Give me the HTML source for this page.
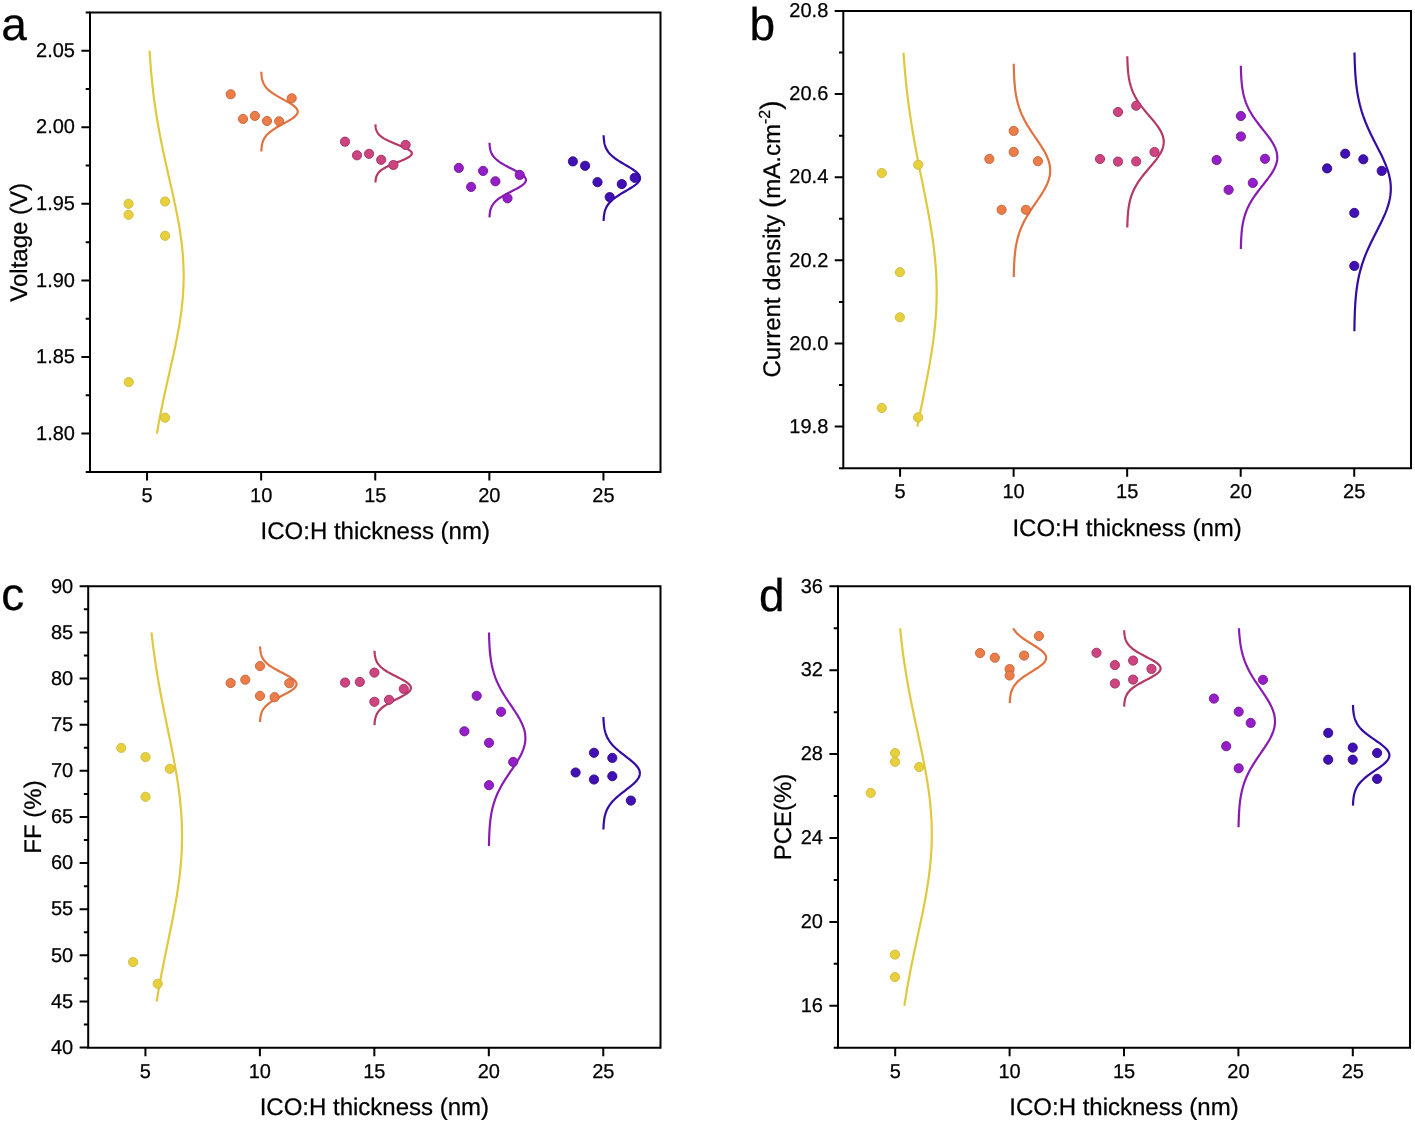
<!DOCTYPE html>
<html><head><meta charset="utf-8"><style>
html,body{margin:0;padding:0;background:#fff;}
svg{display:block;will-change:transform;}
text{font-family:"Liberation Sans", sans-serif;fill:#000;stroke:#000;stroke-width:0.25px;text-rendering:geometricPrecision;}
</style></head><body>
<svg width="1415" height="1123" viewBox="0 0 1415 1123">
<rect width="1415" height="1123" fill="#fff"/>
<path d="M149.58,50.7L149.88,55.49L150.21,60.27L150.57,65.06L150.96,69.85L151.38,74.63L151.84,79.42L152.33,84.21L152.86,88.99L153.42,93.78L154.03,98.57L154.67,103.35L155.35,108.14L156.08,112.93L156.84,117.71L157.64,122.5L158.48,127.28L159.35,132.07L160.26,136.86L161.2,141.64L162.18,146.43L163.18,151.22L164.2,156L165.25,160.79L166.32,165.58L167.39,170.36L168.48,175.15L169.57,179.94L170.66,184.72L171.74,189.51L172.81,194.3L173.86,199.08L174.89,203.87L175.88,208.66L176.84,213.44L177.76,218.23L178.63,223.02L179.44,227.8L180.2,232.59L180.89,237.38L181.51,242.16L182.06,246.95L182.54,251.74L182.93,256.52L183.24,261.31L183.46,266.1L183.6,270.88L183.65,275.67L183.61,280.45L183.48,285.24L183.27,290.03L182.97,294.81L182.59,299.6L182.12,304.39L181.58,309.17L180.97,313.96L180.28,318.75L179.54,323.53L178.73,328.32L177.86,333.11L176.95,337.89L176,342.68L175.01,347.47L173.98,352.25L172.94,357.04L171.87,361.83L170.79,366.61L169.7,371.4L168.61,376.19L167.52,380.97L166.44,385.76L165.38,390.55L164.33,395.33L163.3,400.12L162.29,404.91L161.32,409.69L160.37,414.48L159.46,419.27L158.58,424.05L157.73,428.84L156.93,433.62" fill="none" stroke="#E0C93E" stroke-width="2.2"/>
<path d="M261.31,71.73L261.36,72.73L261.42,73.73L261.5,74.72L261.59,75.72L261.72,76.72L261.87,77.71L262.05,78.71L262.27,79.71L262.54,80.71L262.86,81.7L263.24,82.7L263.69,83.7L264.21,84.69L264.82,85.69L265.51,86.69L266.3,87.69L267.2,88.68L268.2,89.68L269.31,90.68L270.53,91.67L271.86,92.67L273.3,93.67L274.84,94.67L276.47,95.66L278.17,96.66L279.93,97.66L281.74,98.65L283.57,99.65L285.4,100.65L287.19,101.65L288.93,102.64L290.59,103.64L292.13,104.64L293.53,105.63L294.76,106.63L295.81,107.63L296.65,108.63L297.26,109.62L297.63,110.62L297.75,111.62L297.63,112.61L297.26,113.61L296.65,114.61L295.81,115.61L294.76,116.6L293.53,117.6L292.13,118.6L290.59,119.59L288.93,120.59L287.19,121.59L285.4,122.59L283.57,123.58L281.74,124.58L279.93,125.58L278.17,126.57L276.47,127.57L274.84,128.57L273.3,129.57L271.86,130.56L270.53,131.56L269.31,132.56L268.2,133.55L267.2,134.55L266.3,135.55L265.51,136.54L264.82,137.54L264.21,138.54L263.69,139.54L263.24,140.53L262.86,141.53L262.54,142.53L262.27,143.52L262.05,144.52L261.87,145.52L261.72,146.52L261.59,147.51L261.5,148.51L261.42,149.51L261.36,150.5L261.31,151.5" fill="none" stroke="#E0723F" stroke-width="2.2"/>
<path d="M375.41,124.33L375.46,125.06L375.52,125.78L375.6,126.51L375.69,127.24L375.82,127.97L375.97,128.69L376.15,129.42L376.37,130.15L376.64,130.87L376.96,131.6L377.34,132.33L377.79,133.06L378.31,133.78L378.92,134.51L379.61,135.24L380.4,135.97L381.3,136.69L382.3,137.42L383.41,138.15L384.63,138.87L385.96,139.6L387.4,140.33L388.94,141.06L390.57,141.78L392.27,142.51L394.03,143.24L395.84,143.96L397.67,144.69L399.5,145.42L401.29,146.15L403.03,146.87L404.69,147.6L406.23,148.33L407.63,149.05L408.86,149.78L409.91,150.51L410.75,151.24L411.36,151.96L411.73,152.69L411.85,153.42L411.73,154.14L411.36,154.87L410.75,155.6L409.91,156.33L408.86,157.05L407.63,157.78L406.23,158.51L404.69,159.23L403.03,159.96L401.29,160.69L399.5,161.42L397.67,162.14L395.84,162.87L394.03,163.6L392.27,164.32L390.57,165.05L388.94,165.78L387.4,166.51L385.96,167.23L384.63,167.96L383.41,168.69L382.3,169.41L381.3,170.14L380.4,170.87L379.61,171.6L378.92,172.32L378.31,173.05L377.79,173.78L377.34,174.5L376.96,175.23L376.64,175.96L376.37,176.69L376.15,177.41L375.97,178.14L375.82,178.87L375.69,179.59L375.6,180.32L375.52,181.05L375.46,181.78L375.41,182.5" fill="none" stroke="#B43966" stroke-width="2.2"/>
<path d="M489.51,142.72L489.56,143.65L489.62,144.58L489.7,145.51L489.79,146.45L489.92,147.38L490.07,148.31L490.25,149.25L490.47,150.18L490.74,151.11L491.06,152.04L491.44,152.98L491.89,153.91L492.41,154.84L493.02,155.78L493.71,156.71L494.5,157.64L495.4,158.58L496.4,159.51L497.51,160.44L498.73,161.37L500.06,162.31L501.5,163.24L503.04,164.17L504.67,165.11L506.37,166.04L508.13,166.97L509.94,167.9L511.77,168.84L513.6,169.77L515.39,170.7L517.13,171.64L518.79,172.57L520.33,173.5L521.73,174.44L522.96,175.37L524.01,176.3L524.85,177.23L525.46,178.17L525.83,179.1L525.95,180.03L525.83,180.97L525.46,181.9L524.85,182.83L524.01,183.77L522.96,184.7L521.73,185.63L520.33,186.56L518.79,187.5L517.13,188.43L515.39,189.36L513.6,190.3L511.77,191.23L509.94,192.16L508.13,193.09L506.37,194.03L504.67,194.96L503.04,195.89L501.5,196.83L500.06,197.76L498.73,198.69L497.51,199.63L496.4,200.56L495.4,201.49L494.5,202.42L493.71,203.36L493.02,204.29L492.41,205.22L491.89,206.16L491.44,207.09L491.06,208.02L490.74,208.95L490.47,209.89L490.25,210.82L490.07,211.75L489.92,212.69L489.79,213.62L489.7,214.55L489.62,215.49L489.56,216.42L489.51,217.35" fill="none" stroke="#881BB4" stroke-width="2.2"/>
<path d="M603.61,135.19L603.66,136.26L603.72,137.33L603.8,138.41L603.89,139.48L604.02,140.55L604.17,141.62L604.35,142.69L604.57,143.77L604.84,144.84L605.16,145.91L605.54,146.98L605.99,148.05L606.51,149.13L607.12,150.2L607.81,151.27L608.6,152.34L609.5,153.41L610.5,154.48L611.61,155.56L612.83,156.63L614.16,157.7L615.6,158.77L617.14,159.84L618.77,160.92L620.47,161.99L622.23,163.06L624.04,164.13L625.87,165.2L627.7,166.28L629.49,167.35L631.23,168.42L632.89,169.49L634.43,170.56L635.83,171.64L637.06,172.71L638.11,173.78L638.95,174.85L639.56,175.92L639.93,176.99L640.05,178.07L639.93,179.14L639.56,180.21L638.95,181.28L638.11,182.35L637.06,183.43L635.83,184.5L634.43,185.57L632.89,186.64L631.23,187.71L629.49,188.79L627.7,189.86L625.87,190.93L624.04,192L622.23,193.07L620.47,194.15L618.77,195.22L617.14,196.29L615.6,197.36L614.16,198.43L612.83,199.5L611.61,200.58L610.5,201.65L609.5,202.72L608.6,203.79L607.81,204.86L607.12,205.94L606.51,207.01L605.99,208.08L605.54,209.15L605.16,210.22L604.84,211.3L604.57,212.37L604.35,213.44L604.17,214.51L604.02,215.58L603.89,216.66L603.8,217.73L603.72,218.8L603.66,219.87L603.61,220.94" fill="none" stroke="#350BA4" stroke-width="2.2"/>
<circle cx="128.55" cy="203.8" r="4.6" fill="#E8D03C" stroke="#CDB93E" stroke-width="0.9"/>
<circle cx="128.55" cy="214.8" r="4.6" fill="#E8D03C" stroke="#CDB93E" stroke-width="0.9"/>
<circle cx="165.1" cy="201.5" r="4.6" fill="#E8D03C" stroke="#CDB93E" stroke-width="0.9"/>
<circle cx="165.1" cy="235.8" r="4.6" fill="#E8D03C" stroke="#CDB93E" stroke-width="0.9"/>
<circle cx="128.7" cy="382.1" r="4.6" fill="#E8D03C" stroke="#CDB93E" stroke-width="0.9"/>
<circle cx="165" cy="417.7" r="4.6" fill="#E8D03C" stroke="#CDB93E" stroke-width="0.9"/>
<circle cx="230.7" cy="94.3" r="4.6" fill="#EC7C48" stroke="#C2643A" stroke-width="0.9"/>
<circle cx="243" cy="118.9" r="4.6" fill="#EC7C48" stroke="#C2643A" stroke-width="0.9"/>
<circle cx="254.9" cy="115.9" r="4.6" fill="#EC7C48" stroke="#C2643A" stroke-width="0.9"/>
<circle cx="267" cy="121" r="4.6" fill="#EC7C48" stroke="#C2643A" stroke-width="0.9"/>
<circle cx="279.2" cy="121.3" r="4.6" fill="#EC7C48" stroke="#C2643A" stroke-width="0.9"/>
<circle cx="291.7" cy="98.3" r="4.6" fill="#EC7C48" stroke="#C2643A" stroke-width="0.9"/>
<circle cx="345" cy="141.7" r="4.6" fill="#CD4480" stroke="#9E305E" stroke-width="0.9"/>
<circle cx="357" cy="155.3" r="4.6" fill="#CD4480" stroke="#9E305E" stroke-width="0.9"/>
<circle cx="369.1" cy="153.8" r="4.6" fill="#CD4480" stroke="#9E305E" stroke-width="0.9"/>
<circle cx="381.2" cy="159.8" r="4.6" fill="#CD4480" stroke="#9E305E" stroke-width="0.9"/>
<circle cx="393.4" cy="165" r="4.6" fill="#CD4480" stroke="#9E305E" stroke-width="0.9"/>
<circle cx="405.6" cy="144.9" r="4.6" fill="#CD4480" stroke="#9E305E" stroke-width="0.9"/>
<circle cx="458.8" cy="167.9" r="4.6" fill="#961EC8" stroke="#6E1694" stroke-width="0.9"/>
<circle cx="471.1" cy="186.9" r="4.6" fill="#961EC8" stroke="#6E1694" stroke-width="0.9"/>
<circle cx="483.1" cy="170.9" r="4.6" fill="#961EC8" stroke="#6E1694" stroke-width="0.9"/>
<circle cx="495.4" cy="181.3" r="4.6" fill="#961EC8" stroke="#6E1694" stroke-width="0.9"/>
<circle cx="507.5" cy="198.3" r="4.6" fill="#961EC8" stroke="#6E1694" stroke-width="0.9"/>
<circle cx="519.7" cy="174.9" r="4.6" fill="#961EC8" stroke="#6E1694" stroke-width="0.9"/>
<circle cx="572.9" cy="161.4" r="4.6" fill="#410FB4" stroke="#2C0A8C" stroke-width="0.9"/>
<circle cx="585.1" cy="165.8" r="4.6" fill="#410FB4" stroke="#2C0A8C" stroke-width="0.9"/>
<circle cx="597.5" cy="182.2" r="4.6" fill="#410FB4" stroke="#2C0A8C" stroke-width="0.9"/>
<circle cx="609.7" cy="197.1" r="4.6" fill="#410FB4" stroke="#2C0A8C" stroke-width="0.9"/>
<circle cx="621.8" cy="184.1" r="4.6" fill="#410FB4" stroke="#2C0A8C" stroke-width="0.9"/>
<circle cx="634.7" cy="177.8" r="4.6" fill="#410FB4" stroke="#2C0A8C" stroke-width="0.9"/>
<path d="M90,12.6H660.5V472H90Z" fill="none" stroke="#000" stroke-width="2"/>
<text x="75" y="439.82" text-anchor="end" font-size="20">1.80</text>
<text x="75" y="363.24" text-anchor="end" font-size="20">1.85</text>
<text x="75" y="286.65" text-anchor="end" font-size="20">1.90</text>
<text x="75" y="210.07" text-anchor="end" font-size="20">1.95</text>
<text x="75" y="133.48" text-anchor="end" font-size="20">2.00</text>
<text x="75" y="56.9" text-anchor="end" font-size="20">2.05</text>
<text x="147.05" y="502.2" text-anchor="middle" font-size="20">5</text>
<text x="261.15" y="502.2" text-anchor="middle" font-size="20">10</text>
<text x="375.25" y="502.2" text-anchor="middle" font-size="20">15</text>
<text x="489.35" y="502.2" text-anchor="middle" font-size="20">20</text>
<text x="603.45" y="502.2" text-anchor="middle" font-size="20">25</text>
<path d="M81.4,433.62H90M81.4,357.04H90M81.4,280.45H90M81.4,203.87H90M81.4,127.28H90M81.4,50.7H90M85.7,471.92H90M85.7,395.33H90M85.7,318.75H90M85.7,242.16H90M85.7,165.58H90M85.7,88.99H90M85.7,12.41H90M147.05,472V480.6M261.15,472V480.6M375.25,472V480.6M489.35,472V480.6M603.45,472V480.6" stroke="#000" stroke-width="2" fill="none"/>
<text x="375.25" y="539.3" text-anchor="middle" font-size="24">ICO:H thickness (nm)</text>
<text transform="translate(26.9,242.3) rotate(-90)" text-anchor="middle" font-size="24">Voltage (V)</text>
<text x="1.2" y="40" font-size="46">a</text>
<path d="M903.49,52.56L903.82,57.24L904.17,61.91L904.55,66.59L904.96,71.26L905.39,75.94L905.84,80.61L906.33,85.29L906.84,89.96L907.39,94.64L907.96,99.32L908.56,103.99L909.19,108.67L909.85,113.34L910.54,118.02L911.26,122.69L912,127.37L912.78,132.04L913.58,136.72L914.4,141.39L915.24,146.07L916.11,150.75L916.99,155.42L917.89,160.1L918.81,164.77L919.73,169.45L920.67,174.12L921.61,178.8L922.55,183.47L923.49,188.15L924.43,192.83L925.36,197.5L926.28,202.18L927.18,206.85L928.06,211.53L928.92,216.2L929.75,220.88L930.55,225.55L931.32,230.23L932.04,234.9L932.73,239.58L933.37,244.26L933.96,248.93L934.5,253.61L934.98,258.28L935.41,262.96L935.78,267.63L936.08,272.31L936.33,276.98L936.51,281.66L936.62,286.34L936.67,291.01L936.65,295.69L936.57,300.36L936.42,305.04L936.21,309.71L935.93,314.39L935.59,319.06L935.19,323.74L934.73,328.41L934.22,333.09L933.65,337.77L933.04,342.44L932.37,347.12L931.67,351.79L930.92,356.47L930.13,361.14L929.32,365.82L928.47,370.49L927.6,375.17L926.71,379.85L925.8,384.52L924.87,389.2L923.94,393.87L923,398.55L922.06,403.22L921.11,407.9L920.18,412.57L919.24,417.25L918.32,421.92L917.42,426.6" fill="none" stroke="#E0C93E" stroke-width="2.2"/>
<path d="M1013.77,63.75L1013.82,66.42L1013.88,69.08L1013.96,71.75L1014.05,74.42L1014.18,77.08L1014.33,79.75L1014.51,82.42L1014.73,85.08L1015,87.75L1015.32,90.42L1015.7,93.08L1016.15,95.75L1016.67,98.42L1017.28,101.08L1017.97,103.75L1018.76,106.42L1019.66,109.08L1020.66,111.75L1021.77,114.42L1022.99,117.08L1024.32,119.75L1025.76,122.42L1027.3,125.08L1028.93,127.75L1030.63,130.42L1032.39,133.08L1034.2,135.75L1036.03,138.42L1037.86,141.08L1039.65,143.75L1041.39,146.42L1043.05,149.08L1044.59,151.75L1045.99,154.42L1047.22,157.08L1048.27,159.75L1049.11,162.42L1049.72,165.08L1050.09,167.75L1050.21,170.42L1050.09,173.08L1049.72,175.75L1049.11,178.42L1048.27,181.08L1047.22,183.75L1045.99,186.42L1044.59,189.08L1043.05,191.75L1041.39,194.42L1039.65,197.08L1037.86,199.75L1036.03,202.42L1034.2,205.08L1032.39,207.75L1030.63,210.42L1028.93,213.08L1027.3,215.75L1025.76,218.42L1024.32,221.08L1022.99,223.75L1021.77,226.42L1020.66,229.08L1019.66,231.75L1018.76,234.42L1017.97,237.08L1017.28,239.75L1016.67,242.42L1016.15,245.08L1015.7,247.75L1015.32,250.42L1015,253.08L1014.73,255.75L1014.51,258.42L1014.33,261.08L1014.18,263.75L1014.05,266.42L1013.96,269.08L1013.88,271.75L1013.82,274.42L1013.77,277.08" fill="none" stroke="#E0723F" stroke-width="2.2"/>
<path d="M1127.31,56.31L1127.36,58.45L1127.42,60.59L1127.5,62.74L1127.59,64.88L1127.72,67.02L1127.87,69.16L1128.05,71.3L1128.27,73.44L1128.54,75.58L1128.86,77.72L1129.24,79.86L1129.69,82L1130.21,84.14L1130.82,86.29L1131.51,88.43L1132.3,90.57L1133.2,92.71L1134.2,94.85L1135.31,96.99L1136.53,99.13L1137.86,101.27L1139.3,103.41L1140.84,105.55L1142.47,107.7L1144.17,109.84L1145.93,111.98L1147.74,114.12L1149.57,116.26L1151.4,118.4L1153.19,120.54L1154.93,122.68L1156.59,124.82L1158.13,126.96L1159.53,129.1L1160.76,131.25L1161.81,133.39L1162.65,135.53L1163.26,137.67L1163.63,139.81L1163.75,141.95L1163.63,144.09L1163.26,146.23L1162.65,148.37L1161.81,150.51L1160.76,152.65L1159.53,154.8L1158.13,156.94L1156.59,159.08L1154.93,161.22L1153.19,163.36L1151.4,165.5L1149.57,167.64L1147.74,169.78L1145.93,171.92L1144.17,174.06L1142.47,176.2L1140.84,178.35L1139.3,180.49L1137.86,182.63L1136.53,184.77L1135.31,186.91L1134.2,189.05L1133.2,191.19L1132.3,193.33L1131.51,195.47L1130.82,197.61L1130.21,199.76L1129.69,201.9L1129.24,204.04L1128.86,206.18L1128.54,208.32L1128.27,210.46L1128.05,212.6L1127.87,214.74L1127.72,216.88L1127.59,219.02L1127.5,221.16L1127.42,223.31L1127.36,225.45L1127.31,227.59" fill="none" stroke="#B43966" stroke-width="2.2"/>
<path d="M1240.85,65.65L1240.9,67.94L1240.96,70.23L1241.04,72.53L1241.13,74.82L1241.26,77.11L1241.41,79.4L1241.59,81.69L1241.81,83.99L1242.08,86.28L1242.4,88.57L1242.78,90.86L1243.23,93.15L1243.75,95.45L1244.36,97.74L1245.05,100.03L1245.84,102.32L1246.74,104.62L1247.74,106.91L1248.85,109.2L1250.07,111.49L1251.4,113.78L1252.84,116.08L1254.38,118.37L1256.01,120.66L1257.71,122.95L1259.47,125.24L1261.28,127.54L1263.11,129.83L1264.94,132.12L1266.73,134.41L1268.47,136.7L1270.13,139L1271.67,141.29L1273.07,143.58L1274.3,145.87L1275.35,148.16L1276.19,150.46L1276.8,152.75L1277.17,155.04L1277.29,157.33L1277.17,159.63L1276.8,161.92L1276.19,164.21L1275.35,166.5L1274.3,168.79L1273.07,171.09L1271.67,173.38L1270.13,175.67L1268.47,177.96L1266.73,180.25L1264.94,182.55L1263.11,184.84L1261.28,187.13L1259.47,189.42L1257.71,191.71L1256.01,194.01L1254.38,196.3L1252.84,198.59L1251.4,200.88L1250.07,203.18L1248.85,205.47L1247.74,207.76L1246.74,210.05L1245.84,212.34L1245.05,214.64L1244.36,216.93L1243.75,219.22L1243.23,221.51L1242.78,223.8L1242.4,226.1L1242.08,228.39L1241.81,230.68L1241.59,232.97L1241.41,235.26L1241.26,237.56L1241.13,239.85L1241.04,242.14L1240.96,244.43L1240.9,246.73L1240.85,249.02" fill="none" stroke="#881BB4" stroke-width="2.2"/>
<path d="M1354.49,52.56L1354.57,56.04L1354.66,59.53L1354.78,63.01L1354.92,66.5L1355.09,69.98L1355.3,73.47L1355.55,76.95L1355.85,80.44L1356.2,83.92L1356.62,87.41L1357.1,90.89L1357.66,94.37L1358.31,97.86L1359.04,101.34L1359.87,104.83L1360.8,108.31L1361.83,111.8L1362.97,115.28L1364.22,118.77L1365.56,122.25L1367.01,125.74L1368.54,129.22L1370.16,132.7L1371.85,136.19L1373.59,139.67L1375.36,143.16L1377.15,146.64L1378.92,150.13L1380.67,153.61L1382.35,157.1L1383.95,160.58L1385.43,164.07L1386.78,167.55L1387.96,171.03L1388.96,174.52L1389.77,178L1390.35,181.49L1390.71,184.97L1390.83,188.46L1390.72,191.94L1390.37,195.43L1389.79,198.91L1389,202.4L1388,205.88L1386.82,209.36L1385.48,212.85L1384,216.33L1382.41,219.82L1380.73,223.3L1378.98,226.79L1377.21,230.27L1375.42,233.76L1373.65,237.24L1371.91,240.73L1370.22,244.21L1368.6,247.69L1367.06,251.18L1365.61,254.66L1364.26,258.15L1363.01,261.63L1361.87,265.12L1360.83,268.6L1359.9,272.09L1359.07,275.57L1358.33,279.06L1357.68,282.54L1357.12,286.02L1356.63,289.51L1356.22,292.99L1355.86,296.48L1355.56,299.96L1355.31,303.45L1355.1,306.93L1354.92,310.42L1354.78,313.9L1354.66,317.39L1354.57,320.87L1354.5,324.35L1354.44,327.84L1354.39,331.32" fill="none" stroke="#350BA4" stroke-width="2.2"/>
<circle cx="881.8" cy="173" r="4.6" fill="#E8D03C" stroke="#CDB93E" stroke-width="0.9"/>
<circle cx="918.2" cy="164.8" r="4.6" fill="#E8D03C" stroke="#CDB93E" stroke-width="0.9"/>
<circle cx="899.9" cy="272.2" r="4.6" fill="#E8D03C" stroke="#CDB93E" stroke-width="0.9"/>
<circle cx="899.9" cy="317.3" r="4.6" fill="#E8D03C" stroke="#CDB93E" stroke-width="0.9"/>
<circle cx="881.8" cy="408" r="4.6" fill="#E8D03C" stroke="#CDB93E" stroke-width="0.9"/>
<circle cx="918.1" cy="417.4" r="4.6" fill="#E8D03C" stroke="#CDB93E" stroke-width="0.9"/>
<circle cx="1013.7" cy="130.9" r="4.6" fill="#EC7C48" stroke="#C2643A" stroke-width="0.9"/>
<circle cx="1013.7" cy="151.9" r="4.6" fill="#EC7C48" stroke="#C2643A" stroke-width="0.9"/>
<circle cx="989.35" cy="158.9" r="4.6" fill="#EC7C48" stroke="#C2643A" stroke-width="0.9"/>
<circle cx="1037.9" cy="161.2" r="4.6" fill="#EC7C48" stroke="#C2643A" stroke-width="0.9"/>
<circle cx="1001.6" cy="209.8" r="4.6" fill="#EC7C48" stroke="#C2643A" stroke-width="0.9"/>
<circle cx="1025.9" cy="209.8" r="4.6" fill="#EC7C48" stroke="#C2643A" stroke-width="0.9"/>
<circle cx="1118" cy="112" r="4.6" fill="#CD4480" stroke="#9E305E" stroke-width="0.9"/>
<circle cx="1136.2" cy="105.7" r="4.6" fill="#CD4480" stroke="#9E305E" stroke-width="0.9"/>
<circle cx="1100" cy="159" r="4.6" fill="#CD4480" stroke="#9E305E" stroke-width="0.9"/>
<circle cx="1118" cy="161.6" r="4.6" fill="#CD4480" stroke="#9E305E" stroke-width="0.9"/>
<circle cx="1136.2" cy="161.4" r="4.6" fill="#CD4480" stroke="#9E305E" stroke-width="0.9"/>
<circle cx="1154.5" cy="152" r="4.6" fill="#CD4480" stroke="#9E305E" stroke-width="0.9"/>
<circle cx="1240.9" cy="116" r="4.6" fill="#961EC8" stroke="#6E1694" stroke-width="0.9"/>
<circle cx="1240.9" cy="136.5" r="4.6" fill="#961EC8" stroke="#6E1694" stroke-width="0.9"/>
<circle cx="1216.6" cy="160" r="4.6" fill="#961EC8" stroke="#6E1694" stroke-width="0.9"/>
<circle cx="1265" cy="158.8" r="4.6" fill="#961EC8" stroke="#6E1694" stroke-width="0.9"/>
<circle cx="1228.6" cy="189.8" r="4.6" fill="#961EC8" stroke="#6E1694" stroke-width="0.9"/>
<circle cx="1252.8" cy="182.9" r="4.6" fill="#961EC8" stroke="#6E1694" stroke-width="0.9"/>
<circle cx="1327.1" cy="168.4" r="4.6" fill="#410FB4" stroke="#2C0A8C" stroke-width="0.9"/>
<circle cx="1345.2" cy="153.7" r="4.6" fill="#410FB4" stroke="#2C0A8C" stroke-width="0.9"/>
<circle cx="1363.3" cy="159.3" r="4.6" fill="#410FB4" stroke="#2C0A8C" stroke-width="0.9"/>
<circle cx="1381.7" cy="170.9" r="4.6" fill="#410FB4" stroke="#2C0A8C" stroke-width="0.9"/>
<circle cx="1354.3" cy="212.9" r="4.6" fill="#410FB4" stroke="#2C0A8C" stroke-width="0.9"/>
<circle cx="1354.3" cy="265.9" r="4.6" fill="#410FB4" stroke="#2C0A8C" stroke-width="0.9"/>
<path d="M843.3,11H1411V468.2H843.3Z" fill="none" stroke="#000" stroke-width="2"/>
<text x="828.3" y="432.8" text-anchor="end" font-size="20">19.8</text>
<text x="828.3" y="349.68" text-anchor="end" font-size="20">20.0</text>
<text x="828.3" y="266.56" text-anchor="end" font-size="20">20.2</text>
<text x="828.3" y="183.44" text-anchor="end" font-size="20">20.4</text>
<text x="828.3" y="100.32" text-anchor="end" font-size="20">20.6</text>
<text x="828.3" y="17.2" text-anchor="end" font-size="20">20.8</text>
<text x="900.07" y="498.4" text-anchor="middle" font-size="20">5</text>
<text x="1013.61" y="498.4" text-anchor="middle" font-size="20">10</text>
<text x="1127.15" y="498.4" text-anchor="middle" font-size="20">15</text>
<text x="1240.69" y="498.4" text-anchor="middle" font-size="20">20</text>
<text x="1354.23" y="498.4" text-anchor="middle" font-size="20">25</text>
<path d="M834.7,426.6H843.3M834.7,343.48H843.3M834.7,260.36H843.3M834.7,177.24H843.3M834.7,94.12H843.3M834.7,11H843.3M839,468.16H843.3M839,385.04H843.3M839,301.92H843.3M839,218.8H843.3M839,135.68H843.3M839,52.56H843.3M900.07,468.2V476.8M1013.61,468.2V476.8M1127.15,468.2V476.8M1240.69,468.2V476.8M1354.23,468.2V476.8" stroke="#000" stroke-width="2" fill="none"/>
<text x="1127.15" y="535.5" text-anchor="middle" font-size="24">ICO:H thickness (nm)</text>
<text transform="translate(780,239) rotate(-90)" text-anchor="middle" font-size="24">Current density <tspan font-size="28">(</tspan>mA.cm<tspan font-size="16" dy="-10.2">-2</tspan><tspan font-size="28" dy="10.2">)</tspan></text>
<text x="749.6" y="40" font-size="46">b</text>
<path d="M151.51,632.43L152.02,637.04L152.56,641.66L153.13,646.27L153.73,650.88L154.36,655.5L155.02,660.11L155.7,664.72L156.42,669.33L157.17,673.95L157.94,678.56L158.74,683.17L159.56,687.79L160.41,692.4L161.28,697.01L162.17,701.62L163.08,706.24L164,710.85L164.93,715.46L165.88,720.08L166.83,724.69L167.78,729.3L168.73,733.92L169.68,738.53L170.62,743.14L171.55,747.75L172.46,752.37L173.35,756.98L174.22,761.59L175.06,766.21L175.87,770.82L176.65,775.43L177.38,780.05L178.07,784.66L178.72,789.27L179.32,793.88L179.86,798.5L180.35,803.11L180.78,807.72L181.15,812.34L181.45,816.95L181.7,821.56L181.87,826.18L181.99,830.79L182.03,835.4L182.01,840.01L181.91,844.63L181.76,849.24L181.53,853.85L181.25,858.47L180.89,863.08L180.48,867.69L180.01,872.31L179.48,876.92L178.9,881.53L178.27,886.14L177.59,890.76L176.87,895.37L176.1,899.98L175.3,904.6L174.47,909.21L173.61,913.82L172.72,918.44L171.82,923.05L170.89,927.66L169.96,932.28L169.01,936.89L168.06,941.5L167.11,946.11L166.16,950.73L165.21,955.34L164.27,959.95L163.35,964.57L162.44,969.18L161.54,973.79L160.67,978.4L159.81,983.02L158.98,987.63L158.17,992.24L157.39,996.86L156.64,1001.47" fill="none" stroke="#E0C93E" stroke-width="2.2"/>
<path d="M260.05,646.39L260.1,647.34L260.16,648.28L260.24,649.23L260.33,650.17L260.46,651.12L260.61,652.06L260.79,653.01L261.01,653.95L261.28,654.9L261.6,655.84L261.98,656.79L262.43,657.73L262.95,658.68L263.56,659.62L264.25,660.57L265.04,661.51L265.94,662.46L266.94,663.4L268.05,664.35L269.27,665.29L270.6,666.24L272.04,667.18L273.58,668.13L275.21,669.07L276.91,670.02L278.67,670.96L280.48,671.91L282.31,672.85L284.14,673.8L285.93,674.74L287.67,675.69L289.33,676.63L290.87,677.58L292.27,678.52L293.5,679.47L294.55,680.41L295.39,681.36L296,682.3L296.37,683.25L296.49,684.19L296.37,685.14L296,686.08L295.39,687.03L294.55,687.97L293.5,688.92L292.27,689.86L290.87,690.81L289.33,691.75L287.67,692.7L285.93,693.64L284.14,694.59L282.31,695.53L280.48,696.48L278.67,697.42L276.91,698.37L275.21,699.31L273.58,700.26L272.04,701.2L270.6,702.15L269.27,703.09L268.05,704.04L266.94,704.98L265.94,705.93L265.04,706.87L264.25,707.82L263.56,708.76L262.95,709.71L262.43,710.65L261.98,711.6L261.6,712.54L261.28,713.49L261.01,714.43L260.79,715.38L260.61,716.32L260.46,717.27L260.33,718.21L260.24,719.16L260.16,720.1L260.1,721.05L260.05,721.99" fill="none" stroke="#E0723F" stroke-width="2.2"/>
<path d="M374.51,650.75L374.56,651.68L374.62,652.61L374.7,653.54L374.79,654.47L374.92,655.4L375.07,656.33L375.25,657.26L375.47,658.18L375.74,659.11L376.06,660.04L376.44,660.97L376.89,661.9L377.41,662.83L378.02,663.76L378.71,664.69L379.5,665.62L380.4,666.55L381.4,667.48L382.51,668.41L383.73,669.34L385.06,670.27L386.5,671.2L388.04,672.13L389.67,673.05L391.37,673.98L393.13,674.91L394.94,675.84L396.77,676.77L398.6,677.7L400.39,678.63L402.13,679.56L403.79,680.49L405.33,681.42L406.73,682.35L407.96,683.28L409.01,684.21L409.85,685.14L410.46,686.07L410.83,687L410.95,687.93L410.83,688.85L410.46,689.78L409.85,690.71L409.01,691.64L407.96,692.57L406.73,693.5L405.33,694.43L403.79,695.36L402.13,696.29L400.39,697.22L398.6,698.15L396.77,699.08L394.94,700.01L393.13,700.94L391.37,701.87L389.67,702.8L388.04,703.72L386.5,704.65L385.06,705.58L383.73,706.51L382.51,707.44L381.4,708.37L380.4,709.3L379.5,710.23L378.71,711.16L378.02,712.09L377.41,713.02L376.89,713.95L376.44,714.88L376.06,715.81L375.74,716.74L375.47,717.67L375.25,718.59L375.07,719.52L374.92,720.45L374.79,721.38L374.7,722.31L374.62,723.24L374.56,724.17L374.51,725.1" fill="none" stroke="#B43966" stroke-width="2.2"/>
<path d="M489,632.43L489.06,635.1L489.14,637.77L489.23,640.44L489.34,643.1L489.48,645.77L489.65,648.44L489.86,651.11L490.11,653.78L490.41,656.45L490.77,659.12L491.19,661.78L491.68,664.45L492.25,667.12L492.91,669.79L493.66,672.46L494.5,675.13L495.45,677.8L496.51,680.47L497.68,683.13L498.95,685.8L500.33,688.47L501.81,691.14L503.38,693.81L505.04,696.48L506.76,699.15L508.53,701.81L510.34,704.48L512.15,707.15L513.95,709.82L515.7,712.49L517.39,715.16L518.98,717.83L520.44,720.49L521.76,723.16L522.9,725.83L523.85,728.5L524.59,731.17L525.09,733.84L525.36,736.51L525.39,739.17L525.17,741.84L524.72,744.51L524.03,747.18L523.13,749.85L522.03,752.52L520.75,755.19L519.31,757.85L517.75,760.52L516.08,763.19L514.34,765.86L512.55,768.53L510.74,771.2L508.93,773.87L507.15,776.54L505.41,779.2L503.74,781.87L502.15,784.54L500.65,787.21L499.24,789.88L497.95,792.55L496.76,795.22L495.68,797.88L494.7,800.55L493.84,803.22L493.07,805.89L492.39,808.56L491.8,811.23L491.29,813.9L490.86,816.56L490.49,819.23L490.18,821.9L489.91,824.57L489.7,827.24L489.52,829.91L489.37,832.58L489.25,835.24L489.15,837.91L489.08,840.58L489.02,843.25L488.97,845.92" fill="none" stroke="#881BB4" stroke-width="2.2"/>
<path d="M603.43,717.05L603.48,718.45L603.54,719.86L603.62,721.26L603.71,722.67L603.84,724.07L603.99,725.48L604.17,726.88L604.39,728.29L604.66,729.69L604.98,731.1L605.36,732.5L605.81,733.91L606.33,735.31L606.94,736.72L607.63,738.12L608.42,739.53L609.32,740.93L610.32,742.34L611.43,743.74L612.65,745.15L613.98,746.55L615.42,747.96L616.96,749.36L618.59,750.77L620.29,752.17L622.05,753.58L623.86,754.98L625.69,756.39L627.52,757.79L629.31,759.2L631.05,760.6L632.71,762.01L634.25,763.41L635.65,764.82L636.88,766.22L637.93,767.63L638.77,769.03L639.38,770.44L639.75,771.84L639.87,773.25L639.75,774.66L639.38,776.06L638.77,777.47L637.93,778.87L636.88,780.28L635.65,781.68L634.25,783.09L632.71,784.49L631.05,785.9L629.31,787.3L627.52,788.71L625.69,790.11L623.86,791.52L622.05,792.92L620.29,794.33L618.59,795.73L616.96,797.14L615.42,798.54L613.98,799.95L612.65,801.35L611.43,802.76L610.32,804.16L609.32,805.57L608.42,806.97L607.63,808.38L606.94,809.78L606.33,811.19L605.81,812.59L605.36,814L604.98,815.4L604.66,816.81L604.39,818.21L604.17,819.62L603.99,821.02L603.84,822.43L603.71,823.83L603.62,825.24L603.54,826.64L603.48,828.05L603.43,829.45" fill="none" stroke="#350BA4" stroke-width="2.2"/>
<circle cx="121.2" cy="747.9" r="4.6" fill="#E8D03C" stroke="#CDB93E" stroke-width="0.9"/>
<circle cx="145.5" cy="757.1" r="4.6" fill="#E8D03C" stroke="#CDB93E" stroke-width="0.9"/>
<circle cx="169.8" cy="768.8" r="4.6" fill="#E8D03C" stroke="#CDB93E" stroke-width="0.9"/>
<circle cx="145.5" cy="796.8" r="4.6" fill="#E8D03C" stroke="#CDB93E" stroke-width="0.9"/>
<circle cx="133.1" cy="962.1" r="4.6" fill="#E8D03C" stroke="#CDB93E" stroke-width="0.9"/>
<circle cx="157.7" cy="983.8" r="4.6" fill="#E8D03C" stroke="#CDB93E" stroke-width="0.9"/>
<circle cx="230.65" cy="683.05" r="4.6" fill="#EC7C48" stroke="#C2643A" stroke-width="0.9"/>
<circle cx="245.3" cy="679.7" r="4.6" fill="#EC7C48" stroke="#C2643A" stroke-width="0.9"/>
<circle cx="260" cy="666.1" r="4.6" fill="#EC7C48" stroke="#C2643A" stroke-width="0.9"/>
<circle cx="289.3" cy="683.2" r="4.6" fill="#EC7C48" stroke="#C2643A" stroke-width="0.9"/>
<circle cx="260" cy="695.9" r="4.6" fill="#EC7C48" stroke="#C2643A" stroke-width="0.9"/>
<circle cx="274.6" cy="697.2" r="4.6" fill="#EC7C48" stroke="#C2643A" stroke-width="0.9"/>
<circle cx="345.06" cy="682.55" r="4.6" fill="#CD4480" stroke="#9E305E" stroke-width="0.9"/>
<circle cx="359.8" cy="681.9" r="4.6" fill="#CD4480" stroke="#9E305E" stroke-width="0.9"/>
<circle cx="374.4" cy="672.6" r="4.6" fill="#CD4480" stroke="#9E305E" stroke-width="0.9"/>
<circle cx="403.8" cy="688.9" r="4.6" fill="#CD4480" stroke="#9E305E" stroke-width="0.9"/>
<circle cx="374.4" cy="701.8" r="4.6" fill="#CD4480" stroke="#9E305E" stroke-width="0.9"/>
<circle cx="389.05" cy="699.8" r="4.6" fill="#CD4480" stroke="#9E305E" stroke-width="0.9"/>
<circle cx="476.7" cy="695.8" r="4.6" fill="#961EC8" stroke="#6E1694" stroke-width="0.9"/>
<circle cx="501.05" cy="711.8" r="4.6" fill="#961EC8" stroke="#6E1694" stroke-width="0.9"/>
<circle cx="464.4" cy="731.3" r="4.6" fill="#961EC8" stroke="#6E1694" stroke-width="0.9"/>
<circle cx="489" cy="742.8" r="4.6" fill="#961EC8" stroke="#6E1694" stroke-width="0.9"/>
<circle cx="513.2" cy="761.9" r="4.6" fill="#961EC8" stroke="#6E1694" stroke-width="0.9"/>
<circle cx="489" cy="785.2" r="4.6" fill="#961EC8" stroke="#6E1694" stroke-width="0.9"/>
<circle cx="575.6" cy="772.5" r="4.6" fill="#410FB4" stroke="#2C0A8C" stroke-width="0.9"/>
<circle cx="594" cy="752.8" r="4.6" fill="#410FB4" stroke="#2C0A8C" stroke-width="0.9"/>
<circle cx="594" cy="779.5" r="4.6" fill="#410FB4" stroke="#2C0A8C" stroke-width="0.9"/>
<circle cx="612.3" cy="757.9" r="4.6" fill="#410FB4" stroke="#2C0A8C" stroke-width="0.9"/>
<circle cx="612.3" cy="776.2" r="4.6" fill="#410FB4" stroke="#2C0A8C" stroke-width="0.9"/>
<circle cx="630.9" cy="800.6" r="4.6" fill="#410FB4" stroke="#2C0A8C" stroke-width="0.9"/>
<path d="M88.2,586.3H660.5V1047.7H88.2Z" fill="none" stroke="#000" stroke-width="2"/>
<text x="73.2" y="1053.8" text-anchor="end" font-size="20">40</text>
<text x="73.2" y="1007.67" text-anchor="end" font-size="20">45</text>
<text x="73.2" y="961.54" text-anchor="end" font-size="20">50</text>
<text x="73.2" y="915.41" text-anchor="end" font-size="20">55</text>
<text x="73.2" y="869.28" text-anchor="end" font-size="20">60</text>
<text x="73.2" y="823.15" text-anchor="end" font-size="20">65</text>
<text x="73.2" y="777.02" text-anchor="end" font-size="20">70</text>
<text x="73.2" y="730.89" text-anchor="end" font-size="20">75</text>
<text x="73.2" y="684.76" text-anchor="end" font-size="20">80</text>
<text x="73.2" y="638.63" text-anchor="end" font-size="20">85</text>
<text x="73.2" y="592.5" text-anchor="end" font-size="20">90</text>
<text x="145.43" y="1077.9" text-anchor="middle" font-size="20">5</text>
<text x="259.89" y="1077.9" text-anchor="middle" font-size="20">10</text>
<text x="374.35" y="1077.9" text-anchor="middle" font-size="20">15</text>
<text x="488.81" y="1077.9" text-anchor="middle" font-size="20">20</text>
<text x="603.27" y="1077.9" text-anchor="middle" font-size="20">25</text>
<path d="M79.6,1047.6H88.2M79.6,1001.47H88.2M79.6,955.34H88.2M79.6,909.21H88.2M79.6,863.08H88.2M79.6,816.95H88.2M79.6,770.82H88.2M79.6,724.69H88.2M79.6,678.56H88.2M79.6,632.43H88.2M79.6,586.3H88.2M83.9,1024.53H88.2M83.9,978.4H88.2M83.9,932.27H88.2M83.9,886.14H88.2M83.9,840.01H88.2M83.9,793.88H88.2M83.9,747.75H88.2M83.9,701.62H88.2M83.9,655.5H88.2M83.9,609.37H88.2M145.43,1047.7V1056.3M259.89,1047.7V1056.3M374.35,1047.7V1056.3M488.81,1047.7V1056.3M603.27,1047.7V1056.3" stroke="#000" stroke-width="2" fill="none"/>
<text x="374.35" y="1115" text-anchor="middle" font-size="24">ICO:H thickness (nm)</text>
<text transform="translate(41.1,817) rotate(-90)" text-anchor="middle" font-size="24">FF (%)</text>
<text x="1.3" y="610.2" font-size="46">c</text>
<path d="M900.13,628.25L900.59,632.97L901.09,637.69L901.63,642.41L902.19,647.13L902.79,651.85L903.43,656.57L904.1,661.29L904.8,666L905.54,670.72L906.31,675.44L907.11,680.16L907.94,684.88L908.81,689.6L909.7,694.32L910.62,699.04L911.56,703.76L912.52,708.48L913.5,713.2L914.49,717.92L915.5,722.64L916.51,727.36L917.53,732.08L918.55,736.8L919.56,741.51L920.56,746.23L921.55,750.95L922.52,755.67L923.46,760.39L924.38,765.11L925.26,769.83L926.11,774.55L926.91,779.27L927.66,783.99L928.37,788.71L929.01,793.43L929.6,798.15L930.12,802.87L930.58,807.59L930.97,812.31L931.28,817.02L931.52,821.74L931.69,826.46L931.78,831.18L931.8,835.9L931.73,840.62L931.59,845.34L931.38,850.06L931.09,854.78L930.73,859.5L930.3,864.22L929.8,868.94L929.23,873.66L928.61,878.38L927.92,883.1L927.19,887.82L926.4,892.53L925.57,897.25L924.7,901.97L923.8,906.69L922.86,911.41L921.9,916.13L920.92,920.85L919.92,925.57L918.91,930.29L917.9,935.01L916.88,939.73L915.87,944.45L914.86,949.17L913.86,953.89L912.87,958.61L911.9,963.33L910.95,968.04L910.03,972.76L909.13,977.48L908.25,982.2L907.41,986.92L906.6,991.64L905.81,996.36L905.06,1001.08L904.35,1005.8" fill="none" stroke="#E0C93E" stroke-width="2.2"/>
<path d="M1013.2,628.25L1013.76,629.19L1014.39,630.12L1015.08,631.06L1015.84,632L1016.68,632.93L1017.59,633.87L1018.58,634.8L1019.65,635.74L1020.78,636.68L1021.99,637.61L1023.27,638.55L1024.61,639.49L1026,640.42L1027.44,641.36L1028.91,642.3L1030.41,643.23L1031.92,644.17L1033.43,645.1L1034.93,646.04L1036.39,646.98L1037.81,647.91L1039.16,648.85L1040.44,649.79L1041.62,650.72L1042.69,651.66L1043.64,652.6L1044.45,653.53L1045.12,654.47L1045.63,655.4L1045.99,656.34L1046.17,657.28L1046.19,658.21L1046.03,659.15L1045.71,660.09L1045.22,661.02L1044.58,661.96L1043.79,662.9L1042.87,663.83L1041.82,664.77L1040.65,665.7L1039.39,666.64L1038.05,667.58L1036.65,668.51L1035.19,669.45L1033.7,670.39L1032.19,671.32L1030.68,672.26L1029.18,673.19L1027.7,674.13L1026.25,675.07L1024.85,676L1023.5,676.94L1022.22,677.88L1020.99,678.81L1019.84,679.75L1018.77,680.69L1017.76,681.62L1016.84,682.56L1015.99,683.49L1015.21,684.43L1014.51,685.37L1013.87,686.3L1013.3,687.24L1012.79,688.18L1012.34,689.11L1011.94,690.05L1011.59,690.99L1011.28,691.92L1011.02,692.86L1010.79,693.79L1010.59,694.73L1010.42,695.67L1010.28,696.6L1010.16,697.54L1010.06,698.48L1009.97,699.41L1009.9,700.35L1009.85,701.29L1009.8,702.22L1009.76,703.16" fill="none" stroke="#E0723F" stroke-width="2.2"/>
<path d="M1124.16,630.25L1124.21,631.21L1124.27,632.16L1124.35,633.11L1124.44,634.07L1124.57,635.02L1124.72,635.98L1124.9,636.93L1125.12,637.88L1125.39,638.84L1125.71,639.79L1126.09,640.75L1126.54,641.7L1127.06,642.65L1127.67,643.61L1128.36,644.56L1129.15,645.52L1130.05,646.47L1131.05,647.43L1132.16,648.38L1133.38,649.33L1134.71,650.29L1136.15,651.24L1137.69,652.2L1139.32,653.15L1141.02,654.1L1142.78,655.06L1144.59,656.01L1146.42,656.97L1148.25,657.92L1150.04,658.88L1151.78,659.83L1153.44,660.78L1154.98,661.74L1156.38,662.69L1157.61,663.65L1158.66,664.6L1159.5,665.55L1160.11,666.51L1160.48,667.46L1160.6,668.42L1160.48,669.37L1160.11,670.32L1159.5,671.28L1158.66,672.23L1157.61,673.19L1156.38,674.14L1154.98,675.1L1153.44,676.05L1151.78,677L1150.04,677.96L1148.25,678.91L1146.42,679.87L1144.59,680.82L1142.78,681.77L1141.02,682.73L1139.32,683.68L1137.69,684.64L1136.15,685.59L1134.71,686.55L1133.38,687.5L1132.16,688.45L1131.05,689.41L1130.05,690.36L1129.15,691.32L1128.36,692.27L1127.67,693.22L1127.06,694.18L1126.54,695.13L1126.09,696.09L1125.71,697.04L1125.39,698L1125.12,698.95L1124.9,699.9L1124.72,700.86L1124.57,701.81L1124.44,702.77L1124.35,703.72L1124.27,704.67L1124.21,705.63L1124.16,706.58" fill="none" stroke="#B43966" stroke-width="2.2"/>
<path d="M1238.95,628.25L1239.09,630.74L1239.26,633.23L1239.46,635.71L1239.7,638.2L1239.98,640.69L1240.31,643.18L1240.7,645.66L1241.15,648.15L1241.67,650.64L1242.27,653.13L1242.94,655.62L1243.7,658.1L1244.56,660.59L1245.51,663.08L1246.55,665.57L1247.69,668.05L1248.93,670.54L1250.27,673.03L1251.69,675.52L1253.19,678.01L1254.77,680.49L1256.41,682.98L1258.09,685.47L1259.8,687.96L1261.51,690.45L1263.22,692.93L1264.89,695.42L1266.51,697.91L1268.05,700.4L1269.48,702.88L1270.79,705.37L1271.96,707.86L1272.95,710.35L1273.77,712.84L1274.38,715.32L1274.79,717.81L1274.98,720.3L1274.96,722.79L1274.71,725.27L1274.26,727.76L1273.59,730.25L1272.73,732.74L1271.7,735.23L1270.5,737.71L1269.16,740.2L1267.69,742.69L1266.14,745.18L1264.5,747.66L1262.82,750.15L1261.11,752.64L1259.39,755.13L1257.69,757.62L1256.02,760.1L1254.39,762.59L1252.83,765.08L1251.35,767.57L1249.95,770.06L1248.63,772.54L1247.42,775.03L1246.3,777.52L1245.27,780.01L1244.35,782.49L1243.52,784.98L1242.78,787.47L1242.12,789.96L1241.54,792.45L1241.04,794.93L1240.6,797.42L1240.23,799.91L1239.91,802.4L1239.64,804.88L1239.41,807.37L1239.22,809.86L1239.06,812.35L1238.93,814.84L1238.82,817.32L1238.73,819.81L1238.66,822.3L1238.6,824.79L1238.56,827.27" fill="none" stroke="#881BB4" stroke-width="2.2"/>
<path d="M1352.96,704.99L1353.01,706.25L1353.07,707.51L1353.15,708.77L1353.24,710.02L1353.37,711.28L1353.52,712.54L1353.7,713.8L1353.92,715.05L1354.19,716.31L1354.51,717.57L1354.89,718.83L1355.34,720.08L1355.86,721.34L1356.47,722.6L1357.16,723.86L1357.95,725.12L1358.85,726.37L1359.85,727.63L1360.96,728.89L1362.18,730.15L1363.51,731.4L1364.95,732.66L1366.49,733.92L1368.12,735.18L1369.82,736.43L1371.58,737.69L1373.39,738.95L1375.22,740.21L1377.05,741.47L1378.84,742.72L1380.58,743.98L1382.24,745.24L1383.78,746.5L1385.18,747.75L1386.41,749.01L1387.46,750.27L1388.3,751.53L1388.91,752.78L1389.28,754.04L1389.4,755.3L1389.28,756.56L1388.91,757.82L1388.3,759.07L1387.46,760.33L1386.41,761.59L1385.18,762.85L1383.78,764.1L1382.24,765.36L1380.58,766.62L1378.84,767.88L1377.05,769.13L1375.22,770.39L1373.39,771.65L1371.58,772.91L1369.82,774.17L1368.12,775.42L1366.49,776.68L1364.95,777.94L1363.51,779.2L1362.18,780.45L1360.96,781.71L1359.85,782.97L1358.85,784.23L1357.95,785.48L1357.16,786.74L1356.47,788L1355.86,789.26L1355.34,790.52L1354.89,791.77L1354.51,793.03L1354.19,794.29L1353.92,795.55L1353.7,796.8L1353.52,798.06L1353.37,799.32L1353.24,800.58L1353.15,801.83L1353.07,803.09L1353.01,804.35L1352.96,805.61" fill="none" stroke="#350BA4" stroke-width="2.2"/>
<circle cx="895.05" cy="753" r="4.6" fill="#E8D03C" stroke="#CDB93E" stroke-width="0.9"/>
<circle cx="895.05" cy="761.8" r="4.6" fill="#E8D03C" stroke="#CDB93E" stroke-width="0.9"/>
<circle cx="919.2" cy="767" r="4.6" fill="#E8D03C" stroke="#CDB93E" stroke-width="0.9"/>
<circle cx="870.7" cy="792.9" r="4.6" fill="#E8D03C" stroke="#CDB93E" stroke-width="0.9"/>
<circle cx="894.96" cy="954.6" r="4.6" fill="#E8D03C" stroke="#CDB93E" stroke-width="0.9"/>
<circle cx="894.96" cy="977.1" r="4.6" fill="#E8D03C" stroke="#CDB93E" stroke-width="0.9"/>
<circle cx="980.06" cy="653.07" r="4.6" fill="#EC7C48" stroke="#C2643A" stroke-width="0.9"/>
<circle cx="994.8" cy="657.7" r="4.6" fill="#EC7C48" stroke="#C2643A" stroke-width="0.9"/>
<circle cx="1009.6" cy="669.1" r="4.6" fill="#EC7C48" stroke="#C2643A" stroke-width="0.9"/>
<circle cx="1009.6" cy="675.5" r="4.6" fill="#EC7C48" stroke="#C2643A" stroke-width="0.9"/>
<circle cx="1024.05" cy="655.6" r="4.6" fill="#EC7C48" stroke="#C2643A" stroke-width="0.9"/>
<circle cx="1038.9" cy="636" r="4.6" fill="#EC7C48" stroke="#C2643A" stroke-width="0.9"/>
<circle cx="1096.5" cy="652.8" r="4.6" fill="#CD4480" stroke="#9E305E" stroke-width="0.9"/>
<circle cx="1114.9" cy="665.1" r="4.6" fill="#CD4480" stroke="#9E305E" stroke-width="0.9"/>
<circle cx="1114.9" cy="683.5" r="4.6" fill="#CD4480" stroke="#9E305E" stroke-width="0.9"/>
<circle cx="1133.1" cy="660.6" r="4.6" fill="#CD4480" stroke="#9E305E" stroke-width="0.9"/>
<circle cx="1133.1" cy="679.6" r="4.6" fill="#CD4480" stroke="#9E305E" stroke-width="0.9"/>
<circle cx="1151.5" cy="668.9" r="4.6" fill="#CD4480" stroke="#9E305E" stroke-width="0.9"/>
<circle cx="1213.9" cy="698.6" r="4.6" fill="#961EC8" stroke="#6E1694" stroke-width="0.9"/>
<circle cx="1238.7" cy="711.7" r="4.6" fill="#961EC8" stroke="#6E1694" stroke-width="0.9"/>
<circle cx="1250.7" cy="722.9" r="4.6" fill="#961EC8" stroke="#6E1694" stroke-width="0.9"/>
<circle cx="1226.2" cy="746.2" r="4.6" fill="#961EC8" stroke="#6E1694" stroke-width="0.9"/>
<circle cx="1238.7" cy="768.3" r="4.6" fill="#961EC8" stroke="#6E1694" stroke-width="0.9"/>
<circle cx="1263" cy="679.8" r="4.6" fill="#961EC8" stroke="#6E1694" stroke-width="0.9"/>
<circle cx="1328.2" cy="732.9" r="4.6" fill="#410FB4" stroke="#2C0A8C" stroke-width="0.9"/>
<circle cx="1328.2" cy="759.7" r="4.6" fill="#410FB4" stroke="#2C0A8C" stroke-width="0.9"/>
<circle cx="1352.75" cy="747.6" r="4.6" fill="#410FB4" stroke="#2C0A8C" stroke-width="0.9"/>
<circle cx="1352.75" cy="759.7" r="4.6" fill="#410FB4" stroke="#2C0A8C" stroke-width="0.9"/>
<circle cx="1377.1" cy="753" r="4.6" fill="#410FB4" stroke="#2C0A8C" stroke-width="0.9"/>
<circle cx="1377.1" cy="778.9" r="4.6" fill="#410FB4" stroke="#2C0A8C" stroke-width="0.9"/>
<path d="M838,586.3H1410V1047.7H838Z" fill="none" stroke="#000" stroke-width="2"/>
<text x="823" y="1012" text-anchor="end" font-size="20">16</text>
<text x="823" y="928.1" text-anchor="end" font-size="20">20</text>
<text x="823" y="844.2" text-anchor="end" font-size="20">24</text>
<text x="823" y="760.3" text-anchor="end" font-size="20">28</text>
<text x="823" y="676.4" text-anchor="end" font-size="20">32</text>
<text x="823" y="592.5" text-anchor="end" font-size="20">36</text>
<text x="895.2" y="1077.9" text-anchor="middle" font-size="20">5</text>
<text x="1009.6" y="1077.9" text-anchor="middle" font-size="20">10</text>
<text x="1124" y="1077.9" text-anchor="middle" font-size="20">15</text>
<text x="1238.4" y="1077.9" text-anchor="middle" font-size="20">20</text>
<text x="1352.8" y="1077.9" text-anchor="middle" font-size="20">25</text>
<path d="M829.4,1005.8H838M829.4,921.9H838M829.4,838H838M829.4,754.1H838M829.4,670.2H838M829.4,586.3H838M833.7,1047.75H838M833.7,963.85H838M833.7,879.95H838M833.7,796.05H838M833.7,712.15H838M833.7,628.25H838M895.2,1047.7V1056.3M1009.6,1047.7V1056.3M1124,1047.7V1056.3M1238.4,1047.7V1056.3M1352.8,1047.7V1056.3" stroke="#000" stroke-width="2" fill="none"/>
<text x="1124" y="1115" text-anchor="middle" font-size="24">ICO:H thickness (nm)</text>
<text transform="translate(791,817) rotate(-90)" text-anchor="middle" font-size="24">PCE(%)</text>
<text x="759" y="611.2" font-size="46">d</text>
</svg>
</body></html>
